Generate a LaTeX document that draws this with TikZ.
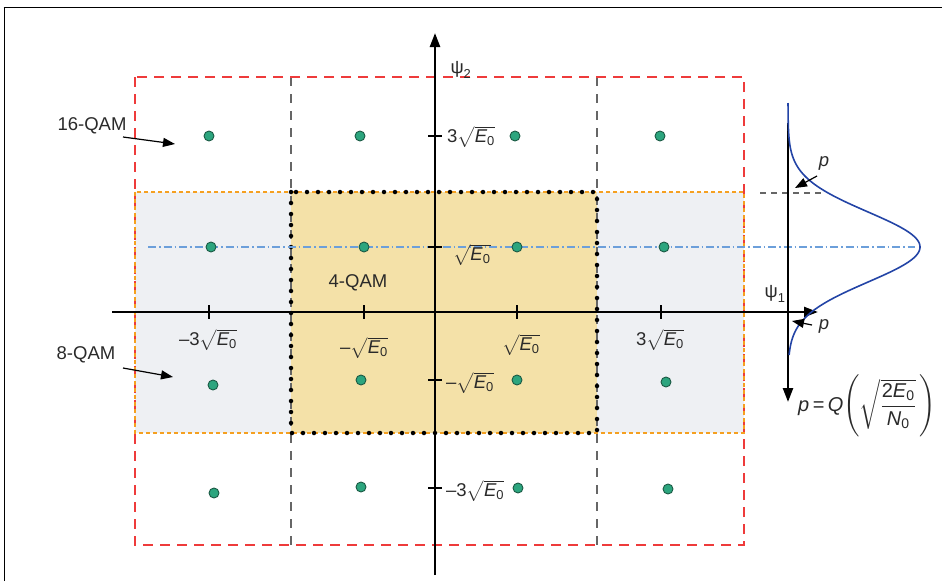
\documentclass[tikz,border=0pt]{standalone}
\usepackage{amsmath}
\usepackage{fontspec}
\setmainfont{Liberation Sans}
\usetikzlibrary{arrows.meta}
\definecolor{redd}{HTML}{EE3B3B}
\definecolor{orangd}{HTML}{F5A020}
\definecolor{grayfill}{HTML}{EEF0F3}
\definecolor{yelfill}{HTML}{F4E1A8}
\definecolor{blued}{HTML}{6C9FDA}
\definecolor{gaussc}{HTML}{2344A6}
\definecolor{ptfill}{HTML}{2CA57E}
\definecolor{ptdraw}{HTML}{1B5A44}
\definecolor{txt}{HTML}{2A2A2A}
\newcommand{\vE}{\textit{E}_{\text{0}}}
\newcommand{\sE}{\sqrt{\vE}}
\newcommand{\mn}{\text{–}}
\begin{document}
\begin{tikzpicture}[x=1pt,y=-1pt,font=\fontsize{18.5}{22}\selectfont,
  reddash/.style={draw=redd,line width=1.3pt,dash pattern=on 10pt off 7pt},
  graydash/.style={draw=black!60,line width=1.3pt,dash pattern=on 9pt off 8pt},
  orangedot/.style={draw=orangd,line width=2pt,dash pattern=on 4pt off 3pt},
  blackdot/.style={draw=black,line width=4.5pt,line cap=round,dash pattern=on 0pt off 11pt},
  bluedd/.style={draw=blued,line width=1.1pt,dash pattern=on 8pt off 3pt on 1.5pt off 3pt},
  axisline/.style={draw=black,line width=2.4pt,-{Triangle[length=14pt,width=10pt]}},
  tickl/.style={draw=black,line width=2pt},
  qpoint/.style={circle,fill=ptfill,draw=ptdraw,line width=0.9pt,minimum size=10pt,inner sep=0pt},
  lab/.style={inner sep=1pt,text=txt},
  thinarrow/.style={draw=black,line width=1.2pt,-{Triangle[length=12pt,width=9pt]}}]
\useasboundingbox (0,0) rectangle (942,581);
% frame
\draw[line width=0.8pt] (4,581) -- (4,7.5);
\draw[line width=1.6pt] (3.6,7.5) -- (942,7.5);
% regions
\fill[grayfill] (135,192) rectangle (744,433);
\fill[yelfill] (291,192) rectangle (597,433);
\draw[graydash] (291,77) -- (291,545);
\draw[graydash] (597,77) -- (597,545);
\draw[reddash] (135,77) rectangle (744,545);
\draw[orangedot] (135,192) rectangle (744,433);
\draw[blackdot] (291,192) rectangle (597,433);
% guide lines
\draw[bluedd] (148,247) -- (915,247);
\draw[graydash,dash pattern=on 6pt off 5pt] (760,193) -- (823,193);
% axes
\coordinate (v0) at (435,575); \coordinate (v1) at (435,33);
\coordinate (h0) at (112,312); \coordinate (h1) at (818,312);
\coordinate (g0) at (788,123); \coordinate (g1) at (788,402);
\draw[axisline] (v0) -- (v1);
\draw[axisline] (h0) -- (h1);
\draw[axisline] (g0) -- (g1);
% ticks
\foreach \x in {209,364,517,661} \draw[tickl] (\x,305) -- (\x,319);
\foreach \y in {136,247,380,488} \draw[tickl] (428,\y) -- (442,\y);
% tick labels
\node[lab] (hx1) at (208,340) {$\mn\text{3}\sE$};
\node[lab] (hx2) at (364,348) {$\mn\sE$};
\node[lab] (hx3) at (521,345) {$\sE$};
\node[lab] (hx4) at (660,340) {$\text{3}\sE$};
\node[lab,anchor=west] (vy1) at (446,137) {$\text{3}\sE$};
\node[lab,anchor=west] (vy2) at (452,255) {$\sE$};
\node[lab,anchor=west] (vy3) at (445,383) {$\mn\sE$};
\node[lab,anchor=west] (vy4) at (445,491) {$\mn\text{3}\sE$};
% axis labels
\node[lab] (psi2) at (461,70) {$\text{ψ}_{\text{2}}$};
\node[lab] (psi1) at (775,294) {$\text{ψ}_{\text{1}}$};
% points
\node[qpoint] (p11) at (209,136) {};
\node[qpoint] (p12) at (360,136) {};
\node[qpoint] (p13) at (515,136) {};
\node[qpoint] (p14) at (660,136) {};
\node[qpoint] (p21) at (211,247) {};
\node[qpoint] (p22) at (364,247) {};
\node[qpoint] (p23) at (517,247) {};
\node[qpoint] (p24) at (664,247) {};
\node[qpoint] (p31) at (213,385) {};
\node[qpoint] (p32) at (361,380) {};
\node[qpoint] (p33) at (517,380) {};
\node[qpoint] (p34) at (666,382) {};
\node[qpoint] (p41) at (214,493) {};
\node[qpoint] (p42) at (361,487) {};
\node[qpoint] (p43) at (518,488) {};
\node[qpoint] (p44) at (668,489) {};
% region labels
\node[lab] (q16) at (92,126) {16-QAM};
\coordinate (q16t) at (175,144);
\draw[thinarrow] (123,137) -- (q16t);
\node[lab] (q8) at (86,355) {8-QAM};
\coordinate (q8t) at (173,377);
\draw[thinarrow] (123,368) -- (q8t);
\node[lab] (q4) at (358,283) {4-QAM};
% gaussian
\draw[gaussc,line width=1.6pt] plot[domain=103:355,samples=150,smooth]
  ({788+132*exp(-0.5*((\x-247)/35)^2)},\x);
% p labels
\node[lab] (pa) at (824,163) {$\textit{p}$};
\coordinate (pat) at (795,188);
\draw[thinarrow] (817,176) -- (pat);
\node[lab] (pb) at (824,326) {$\textit{p}$};
\coordinate (pbt) at (792,321);
\draw[thinarrow] (812,325) -- (pbt);
% formula
\node[lab,font=\fontsize{20}{24}\selectfont,anchor=west] (form) at (797,406) {$\textit{p}\,\text{=}\,\textit{Q}\Bigg(\sqrt{\dfrac{\text{2}\textit{E}_{\text{0}}}{\textit{N}_{\text{0}}}}\,\Bigg)$};
\end{tikzpicture}
\end{document}
